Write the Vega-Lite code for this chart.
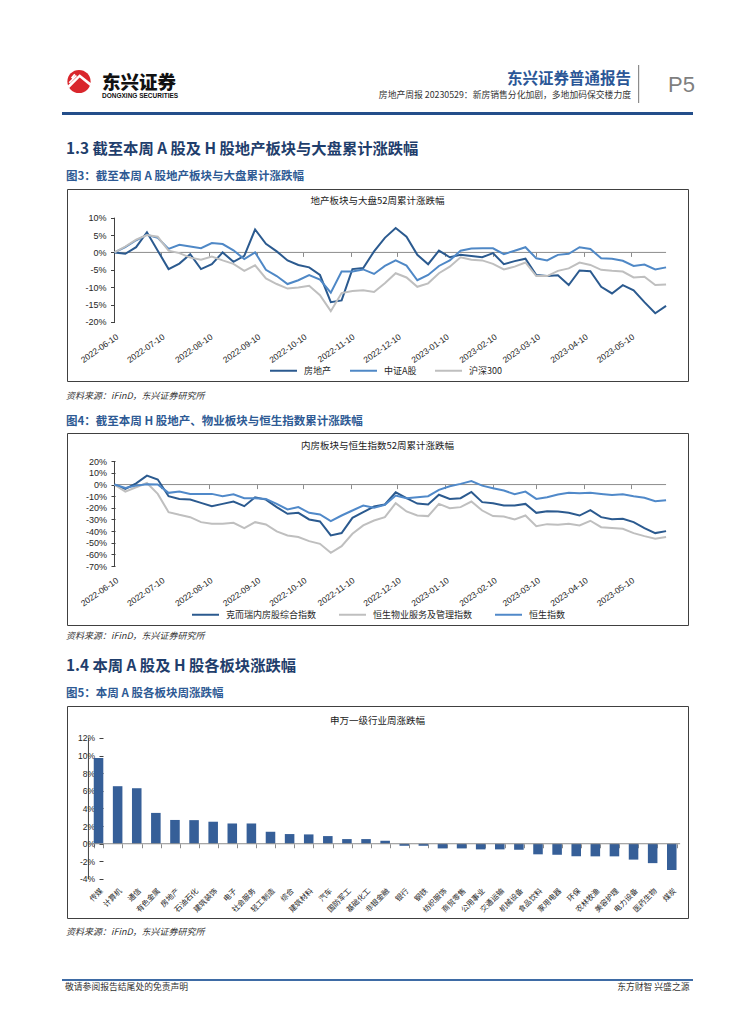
{
"$schema": "https://vega.github.io/schema/vega-lite/v6.json",
"background": "white",
"padding": {"left": 62, "top": 62, "right": 0, "bottom": 0},
"spacing": 0,
"resolve": {"scale": {"color": "independent", "x": "independent", "y": "independent"}, "legend": {"color": "independent"}, "axis": {"x": "independent", "y": "independent"}},
"datasets": {
"c1": [
{"d":"2022-06-10","s":"房地产","v":0},{"d":"2022-06-17","s":"房地产","v":-0.4},{"d":"2022-06-24","s":"房地产","v":1.5},{"d":"2022-07-01","s":"房地产","v":5.8},{"d":"2022-07-08","s":"房地产","v":0.5},{"d":"2022-07-15","s":"房地产","v":-4.8},{"d":"2022-07-22","s":"房地产","v":-3.2},{"d":"2022-07-29","s":"房地产","v":-0.5},{"d":"2022-08-05","s":"房地产","v":-4.8},{"d":"2022-08-12","s":"房地产","v":-3.4},{"d":"2022-08-19","s":"房地产","v":0},{"d":"2022-08-26","s":"房地产","v":-2.7},{"d":"2022-09-02","s":"房地产","v":-1},{"d":"2022-09-09","s":"房地产","v":6.6},{"d":"2022-09-16","s":"房地产","v":2.5},{"d":"2022-09-23","s":"房地产","v":0.3},{"d":"2022-09-30","s":"房地产","v":-2.3},{"d":"2022-10-07","s":"房地产","v":-3.6},{"d":"2022-10-14","s":"房地产","v":-4.3},{"d":"2022-10-21","s":"房地产","v":-6.5},{"d":"2022-10-28","s":"房地产","v":-14.3},{"d":"2022-11-04","s":"房地产","v":-13.8},{"d":"2022-11-11","s":"房地产","v":-4.8},{"d":"2022-11-18","s":"房地产","v":-4.5},{"d":"2022-11-25","s":"房地产","v":0.3},{"d":"2022-12-02","s":"房地产","v":4.2},{"d":"2022-12-09","s":"房地产","v":7},{"d":"2022-12-16","s":"房地产","v":4.5},{"d":"2022-12-23","s":"房地产","v":-0.7},{"d":"2022-12-30","s":"房地产","v":-3.4},{"d":"2023-01-06","s":"房地产","v":0.5},{"d":"2023-01-13","s":"房地产","v":-1.4},{"d":"2023-01-20","s":"房地产","v":-0.7},{"d":"2023-01-27","s":"房地产","v":-1},{"d":"2023-02-03","s":"房地产","v":-1.4},{"d":"2023-02-10","s":"房地产","v":-0.2},{"d":"2023-02-17","s":"房地产","v":-3.4},{"d":"2023-02-24","s":"房地产","v":-2.5},{"d":"2023-03-03","s":"房地产","v":-1.8},{"d":"2023-03-10","s":"房地产","v":-6.5},{"d":"2023-03-17","s":"房地产","v":-6.8},{"d":"2023-03-24","s":"房地产","v":-6.6},{"d":"2023-03-31","s":"房地产","v":-9.4},{"d":"2023-04-07","s":"房地产","v":-5.2},{"d":"2023-04-14","s":"房地产","v":-5.4},{"d":"2023-04-21","s":"房地产","v":-9.9},{"d":"2023-04-28","s":"房地产","v":-11.8},{"d":"2023-05-05","s":"房地产","v":-9.4},{"d":"2023-05-12","s":"房地产","v":-10.9},{"d":"2023-05-19","s":"房地产","v":-14.3},{"d":"2023-05-26","s":"房地产","v":-17.5},{"d":"2023-06-02","s":"房地产","v":-15.4},
{"d":"2022-06-10","s":"中证A股","v":0},{"d":"2022-06-17","s":"中证A股","v":1.5},{"d":"2022-06-24","s":"中证A股","v":3.5},{"d":"2022-07-01","s":"中证A股","v":5.1},{"d":"2022-07-08","s":"中证A股","v":4.2},{"d":"2022-07-15","s":"中证A股","v":1},{"d":"2022-07-22","s":"中证A股","v":2.2},{"d":"2022-07-29","s":"中证A股","v":1.7},{"d":"2022-08-05","s":"中证A股","v":1.2},{"d":"2022-08-12","s":"中证A股","v":2.7},{"d":"2022-08-19","s":"中证A股","v":2.4},{"d":"2022-08-26","s":"中证A股","v":0.6},{"d":"2022-09-02","s":"中证A股","v":-1.9},{"d":"2022-09-09","s":"中证A股","v":0},{"d":"2022-09-16","s":"中证A股","v":-5},{"d":"2022-09-23","s":"中证A股","v":-6.8},{"d":"2022-09-30","s":"中证A股","v":-9.1},{"d":"2022-10-07","s":"中证A股","v":-8},{"d":"2022-10-14","s":"中证A股","v":-6.5},{"d":"2022-10-21","s":"中证A股","v":-7.8},{"d":"2022-10-28","s":"中证A股","v":-11.6},{"d":"2022-11-04","s":"中证A股","v":-5.5},{"d":"2022-11-11","s":"中证A股","v":-5.5},{"d":"2022-11-18","s":"中证A股","v":-4.9},{"d":"2022-11-25","s":"中证A股","v":-6.2},{"d":"2022-12-02","s":"中证A股","v":-3.9},{"d":"2022-12-09","s":"中证A股","v":-2.3},{"d":"2022-12-16","s":"中证A股","v":-3.8},{"d":"2022-12-23","s":"中证A股","v":-8},{"d":"2022-12-30","s":"中证A股","v":-6.5},{"d":"2023-01-06","s":"中证A股","v":-3.9},{"d":"2023-01-13","s":"中证A股","v":-2.3},{"d":"2023-01-20","s":"中证A股","v":0.5},{"d":"2023-01-27","s":"中证A股","v":1.1},{"d":"2023-02-03","s":"中证A股","v":1.2},{"d":"2023-02-10","s":"中证A股","v":1.2},{"d":"2023-02-17","s":"中证A股","v":-0.5},{"d":"2023-02-24","s":"中证A股","v":0.5},{"d":"2023-03-03","s":"中证A股","v":1.5},{"d":"2023-03-10","s":"中证A股","v":-1.7},{"d":"2023-03-17","s":"中证A股","v":-2.3},{"d":"2023-03-24","s":"中证A股","v":-0.7},{"d":"2023-03-31","s":"中证A股","v":-0.4},{"d":"2023-04-07","s":"中证A股","v":1.5},{"d":"2023-04-14","s":"中证A股","v":1},{"d":"2023-04-21","s":"中证A股","v":-1.7},{"d":"2023-04-28","s":"中证A股","v":-1.8},{"d":"2023-05-05","s":"中证A股","v":-2.4},{"d":"2023-05-12","s":"中证A股","v":-3.9},{"d":"2023-05-19","s":"中证A股","v":-3.5},{"d":"2023-05-26","s":"中证A股","v":-4.9},{"d":"2023-06-02","s":"中证A股","v":-4.3},
{"d":"2022-06-10","s":"沪深300","v":0},{"d":"2022-06-17","s":"沪深300","v":1.7},{"d":"2022-06-24","s":"沪深300","v":3.7},{"d":"2022-07-01","s":"沪深300","v":5},{"d":"2022-07-08","s":"沪深300","v":4.5},{"d":"2022-07-15","s":"沪深300","v":0.5},{"d":"2022-07-22","s":"沪深300","v":-0.2},{"d":"2022-07-29","s":"沪深300","v":-1.5},{"d":"2022-08-05","s":"沪深300","v":-2.1},{"d":"2022-08-12","s":"沪深300","v":-1.2},{"d":"2022-08-19","s":"沪深300","v":-2.3},{"d":"2022-08-26","s":"沪深300","v":-3.3},{"d":"2022-09-02","s":"沪深300","v":-5.3},{"d":"2022-09-09","s":"沪深300","v":-3.7},{"d":"2022-09-16","s":"沪深300","v":-7.5},{"d":"2022-09-23","s":"沪深300","v":-9.1},{"d":"2022-09-30","s":"沪深300","v":-10.4},{"d":"2022-10-07","s":"沪深300","v":-10.1},{"d":"2022-10-14","s":"沪深300","v":-9.6},{"d":"2022-10-21","s":"沪深300","v":-12.3},{"d":"2022-10-28","s":"沪深300","v":-16.9},{"d":"2022-11-04","s":"沪深300","v":-11.7},{"d":"2022-11-11","s":"沪深300","v":-11.1},{"d":"2022-11-18","s":"沪深300","v":-10.9},{"d":"2022-11-25","s":"沪深300","v":-11.4},{"d":"2022-12-02","s":"沪深300","v":-8.9},{"d":"2022-12-09","s":"沪深300","v":-6},{"d":"2022-12-16","s":"沪深300","v":-7.2},{"d":"2022-12-23","s":"沪深300","v":-9.9},{"d":"2022-12-30","s":"沪深300","v":-8.9},{"d":"2023-01-06","s":"沪深300","v":-6},{"d":"2023-01-13","s":"沪深300","v":-4.1},{"d":"2023-01-20","s":"沪深300","v":-1.4},{"d":"2023-01-27","s":"沪深300","v":-2.1},{"d":"2023-02-03","s":"沪深300","v":-2.3},{"d":"2023-02-10","s":"沪深300","v":-3.3},{"d":"2023-02-17","s":"沪深300","v":-4.9},{"d":"2023-02-24","s":"沪深300","v":-4.1},{"d":"2023-03-03","s":"沪深300","v":-2.9},{"d":"2023-03-10","s":"沪深300","v":-6.8},{"d":"2023-03-17","s":"沪深300","v":-6.8},{"d":"2023-03-24","s":"沪深300","v":-5.3},{"d":"2023-03-31","s":"沪深300","v":-4.6},{"d":"2023-04-07","s":"沪深300","v":-2.9},{"d":"2023-04-14","s":"沪深300","v":-3.6},{"d":"2023-04-21","s":"沪深300","v":-5},{"d":"2023-04-28","s":"沪深300","v":-5.3},{"d":"2023-05-05","s":"沪深300","v":-5.5},{"d":"2023-05-12","s":"沪深300","v":-7.2},{"d":"2023-05-19","s":"沪深300","v":-7},{"d":"2023-05-26","s":"沪深300","v":-9.4},{"d":"2023-06-02","s":"沪深300","v":-9.2}
],
"c2": [
{"d":"2022-06-10","s":"克而瑞内房股综合指数","v":0},{"d":"2022-06-17","s":"克而瑞内房股综合指数","v":-3.7},{"d":"2022-06-24","s":"克而瑞内房股综合指数","v":1.1},{"d":"2022-07-01","s":"克而瑞内房股综合指数","v":7.7},{"d":"2022-07-08","s":"克而瑞内房股综合指数","v":4.3},{"d":"2022-07-15","s":"克而瑞内房股综合指数","v":-10},{"d":"2022-07-22","s":"克而瑞内房股综合指数","v":-12.3},{"d":"2022-07-29","s":"克而瑞内房股综合指数","v":-12.9},{"d":"2022-08-05","s":"克而瑞内房股综合指数","v":-15.7},{"d":"2022-08-12","s":"克而瑞内房股综合指数","v":-18.6},{"d":"2022-08-19","s":"克而瑞内房股综合指数","v":-16.6},{"d":"2022-08-26","s":"克而瑞内房股综合指数","v":-14.6},{"d":"2022-09-02","s":"克而瑞内房股综合指数","v":-18.6},{"d":"2022-09-09","s":"克而瑞内房股综合指数","v":-10.9},{"d":"2022-09-16","s":"克而瑞内房股综合指数","v":-12.9},{"d":"2022-09-23","s":"克而瑞内房股综合指数","v":-19.4},{"d":"2022-09-30","s":"克而瑞内房股综合指数","v":-25.1},{"d":"2022-10-07","s":"克而瑞内房股综合指数","v":-24.3},{"d":"2022-10-14","s":"克而瑞内房股综合指数","v":-30},{"d":"2022-10-21","s":"克而瑞内房股综合指数","v":-31.7},{"d":"2022-10-28","s":"克而瑞内房股综合指数","v":-43.7},{"d":"2022-11-04","s":"克而瑞内房股综合指数","v":-41.7},{"d":"2022-11-11","s":"克而瑞内房股综合指数","v":-28.6},{"d":"2022-11-18","s":"克而瑞内房股综合指数","v":-23.7},{"d":"2022-11-25","s":"克而瑞内房股综合指数","v":-18.9},{"d":"2022-12-02","s":"克而瑞内房股综合指数","v":-17.1},{"d":"2022-12-09","s":"克而瑞内房股综合指数","v":-6.6},{"d":"2022-12-16","s":"克而瑞内房股综合指数","v":-11.7},{"d":"2022-12-23","s":"克而瑞内房股综合指数","v":-16.3},{"d":"2022-12-30","s":"克而瑞内房股综合指数","v":-17.1},{"d":"2023-01-06","s":"克而瑞内房股综合指数","v":-8.7},{"d":"2023-01-13","s":"克而瑞内房股综合指数","v":-12.3},{"d":"2023-01-20","s":"克而瑞内房股综合指数","v":-11.7},{"d":"2023-01-27","s":"克而瑞内房股综合指数","v":-6.3},{"d":"2023-02-03","s":"克而瑞内房股综合指数","v":-15.1},{"d":"2023-02-10","s":"克而瑞内房股综合指数","v":-16},{"d":"2023-02-17","s":"克而瑞内房股综合指数","v":-18},{"d":"2023-02-24","s":"克而瑞内房股综合指数","v":-18},{"d":"2023-03-03","s":"克而瑞内房股综合指数","v":-16.6},{"d":"2023-03-10","s":"克而瑞内房股综合指数","v":-24.3},{"d":"2023-03-17","s":"克而瑞内房股综合指数","v":-22.9},{"d":"2023-03-24","s":"克而瑞内房股综合指数","v":-23.1},{"d":"2023-03-31","s":"克而瑞内房股综合指数","v":-24.3},{"d":"2023-04-07","s":"克而瑞内房股综合指数","v":-26.6},{"d":"2023-04-14","s":"克而瑞内房股综合指数","v":-22},{"d":"2023-04-21","s":"克而瑞内房股综合指数","v":-28},{"d":"2023-04-28","s":"克而瑞内房股综合指数","v":-29.7},{"d":"2023-05-05","s":"克而瑞内房股综合指数","v":-29.4},{"d":"2023-05-12","s":"克而瑞内房股综合指数","v":-32.3},{"d":"2023-05-19","s":"克而瑞内房股综合指数","v":-37.4},{"d":"2023-05-26","s":"克而瑞内房股综合指数","v":-41.7},{"d":"2023-06-02","s":"克而瑞内房股综合指数","v":-40},
{"d":"2022-06-10","s":"恒生物业服务及管理指数","v":0},{"d":"2022-06-17","s":"恒生物业服务及管理指数","v":-6},{"d":"2022-06-24","s":"恒生物业服务及管理指数","v":-2.3},{"d":"2022-07-01","s":"恒生物业服务及管理指数","v":1.4},{"d":"2022-07-08","s":"恒生物业服务及管理指数","v":-8},{"d":"2022-07-15","s":"恒生物业服务及管理指数","v":-23.7},{"d":"2022-07-22","s":"恒生物业服务及管理指数","v":-26},{"d":"2022-07-29","s":"恒生物业服务及管理指数","v":-28},{"d":"2022-08-05","s":"恒生物业服务及管理指数","v":-32.3},{"d":"2022-08-12","s":"恒生物业服务及管理指数","v":-33.7},{"d":"2022-08-19","s":"恒生物业服务及管理指数","v":-33.7},{"d":"2022-08-26","s":"恒生物业服务及管理指数","v":-32.9},{"d":"2022-09-02","s":"恒生物业服务及管理指数","v":-37.4},{"d":"2022-09-09","s":"恒生物业服务及管理指数","v":-32.3},{"d":"2022-09-16","s":"恒生物业服务及管理指数","v":-34.3},{"d":"2022-09-23","s":"恒生物业服务及管理指数","v":-40.3},{"d":"2022-09-30","s":"恒生物业服务及管理指数","v":-43.7},{"d":"2022-10-07","s":"恒生物业服务及管理指数","v":-45.1},{"d":"2022-10-14","s":"恒生物业服务及管理指数","v":-48.6},{"d":"2022-10-21","s":"恒生物业服务及管理指数","v":-50.9},{"d":"2022-10-28","s":"恒生物业服务及管理指数","v":-58.6},{"d":"2022-11-04","s":"恒生物业服务及管理指数","v":-52.9},{"d":"2022-11-11","s":"恒生物业服务及管理指数","v":-42.3},{"d":"2022-11-18","s":"恒生物业服务及管理指数","v":-35.1},{"d":"2022-11-25","s":"恒生物业服务及管理指数","v":-30.9},{"d":"2022-12-02","s":"恒生物业服务及管理指数","v":-28},{"d":"2022-12-09","s":"恒生物业服务及管理指数","v":-16},{"d":"2022-12-16","s":"恒生物业服务及管理指数","v":-23.1},{"d":"2022-12-23","s":"恒生物业服务及管理指数","v":-26.6},{"d":"2022-12-30","s":"恒生物业服务及管理指数","v":-27.1},{"d":"2023-01-06","s":"恒生物业服务及管理指数","v":-16.6},{"d":"2023-01-13","s":"恒生物业服务及管理指数","v":-20.3},{"d":"2023-01-20","s":"恒生物业服务及管理指数","v":-19.4},{"d":"2023-01-27","s":"恒生物业服务及管理指数","v":-14.6},{"d":"2023-02-03","s":"恒生物业服务及管理指数","v":-22.3},{"d":"2023-02-10","s":"恒生物业服务及管理指数","v":-27.1},{"d":"2023-02-17","s":"恒生物业服务及管理指数","v":-27.4},{"d":"2023-02-24","s":"恒生物业服务及管理指数","v":-30},{"d":"2023-03-03","s":"恒生物业服务及管理指数","v":-26.6},{"d":"2023-03-10","s":"恒生物业服务及管理指数","v":-35.7},{"d":"2023-03-17","s":"恒生物业服务及管理指数","v":-34},{"d":"2023-03-24","s":"恒生物业服务及管理指数","v":-34.6},{"d":"2023-03-31","s":"恒生物业服务及管理指数","v":-33.7},{"d":"2023-04-07","s":"恒生物业服务及管理指数","v":-35.1},{"d":"2023-04-14","s":"恒生物业服务及管理指数","v":-31.1},{"d":"2023-04-21","s":"恒生物业服务及管理指数","v":-36.6},{"d":"2023-04-28","s":"恒生物业服务及管理指数","v":-37.4},{"d":"2023-05-05","s":"恒生物业服务及管理指数","v":-38},{"d":"2023-05-12","s":"恒生物业服务及管理指数","v":-41.7},{"d":"2023-05-19","s":"恒生物业服务及管理指数","v":-44.3},{"d":"2023-05-26","s":"恒生物业服务及管理指数","v":-46.6},{"d":"2023-06-02","s":"恒生物业服务及管理指数","v":-45.1},
{"d":"2022-06-10","s":"恒生指数","v":0},{"d":"2022-06-17","s":"恒生指数","v":-2.9},{"d":"2022-06-24","s":"恒生指数","v":-0.9},{"d":"2022-07-01","s":"恒生指数","v":0.3},{"d":"2022-07-08","s":"恒生指数","v":0},{"d":"2022-07-15","s":"恒生指数","v":-7.1},{"d":"2022-07-22","s":"恒生指数","v":-6},{"d":"2022-07-29","s":"恒生指数","v":-8},{"d":"2022-08-05","s":"恒生指数","v":-8},{"d":"2022-08-12","s":"恒生指数","v":-8},{"d":"2022-08-19","s":"恒生指数","v":-10},{"d":"2022-08-26","s":"恒生指数","v":-8.3},{"d":"2022-09-02","s":"恒生指数","v":-11.7},{"d":"2022-09-09","s":"恒生指数","v":-11.7},{"d":"2022-09-16","s":"恒生指数","v":-12.3},{"d":"2022-09-23","s":"恒生指数","v":-16.6},{"d":"2022-09-30","s":"恒生指数","v":-21.4},{"d":"2022-10-07","s":"恒生指数","v":-19.4},{"d":"2022-10-14","s":"恒生指数","v":-24.3},{"d":"2022-10-21","s":"恒生指数","v":-25.7},{"d":"2022-10-28","s":"恒生指数","v":-31.4},{"d":"2022-11-04","s":"恒生指数","v":-26.6},{"d":"2022-11-11","s":"恒生指数","v":-22.3},{"d":"2022-11-18","s":"恒生指数","v":-18},{"d":"2022-11-25","s":"恒生指数","v":-20},{"d":"2022-12-02","s":"恒生指数","v":-17.4},{"d":"2022-12-09","s":"恒生指数","v":-9.4},{"d":"2022-12-16","s":"恒生指数","v":-11.7},{"d":"2022-12-23","s":"恒生指数","v":-10.9},{"d":"2022-12-30","s":"恒生指数","v":-10},{"d":"2023-01-06","s":"恒生指数","v":-4.6},{"d":"2023-01-13","s":"恒生指数","v":-1.4},{"d":"2023-01-20","s":"恒生指数","v":0.6},{"d":"2023-01-27","s":"恒生指数","v":3.1},{"d":"2023-02-03","s":"恒生指数","v":-0.9},{"d":"2023-02-10","s":"恒生指数","v":-3.1},{"d":"2023-02-17","s":"恒生指数","v":-5.1},{"d":"2023-02-24","s":"恒生指数","v":-8.3},{"d":"2023-03-03","s":"恒生指数","v":-6},{"d":"2023-03-10","s":"恒生指数","v":-12.3},{"d":"2023-03-17","s":"恒生指数","v":-10.9},{"d":"2023-03-24","s":"恒生指数","v":-8.6},{"d":"2023-03-31","s":"恒生指数","v":-7.1},{"d":"2023-04-07","s":"恒生指数","v":-7.4},{"d":"2023-04-14","s":"恒生指数","v":-7.1},{"d":"2023-04-21","s":"恒生指数","v":-8},{"d":"2023-04-28","s":"恒生指数","v":-8.9},{"d":"2023-05-05","s":"恒生指数","v":-8.3},{"d":"2023-05-12","s":"恒生指数","v":-10},{"d":"2023-05-19","s":"恒生指数","v":-11.4},{"d":"2023-05-26","s":"恒生指数","v":-14.3},{"d":"2023-06-02","s":"恒生指数","v":-13.4}
],
"c3": [
{"k":"传媒","v":9.74},{"k":"计算机","v":6.53},{"k":"通信","v":6.3},{"k":"有色金属","v":3.5},{"k":"房地产","v":2.7},{"k":"石油石化","v":2.68},{"k":"建筑装饰","v":2.5},{"k":"电子","v":2.3},{"k":"社会服务","v":2.3},{"k":"轻工制造","v":1.36},{"k":"综合","v":1.1},{"k":"建筑材料","v":1.06},{"k":"汽车","v":0.87},{"k":"国防军工","v":0.53},{"k":"基础化工","v":0.53},{"k":"非银金融","v":0.34},{"k":"银行","v":-0.23},{"k":"钢铁","v":-0.23},{"k":"纺织服饰","v":-0.53},{"k":"商贸零售","v":-0.53},{"k":"公用事业","v":-0.64},{"k":"交通运输","v":-0.64},{"k":"机械设备","v":-0.68},{"k":"食品饮料","v":-1.2},{"k":"家用电器","v":-1.25},{"k":"环保","v":-1.43},{"k":"农林牧渔","v":-1.43},{"k":"美容护理","v":-1.43},{"k":"电力设备","v":-1.8},{"k":"医药生物","v":-2.2},{"k":"煤炭","v":-2.98}
]
},
"vconcat": [
{"hconcat": [
  {"width": 34, "height": 39, "data": {"values": [{}]}, "layer": [
    {"mark": {"type": "point", "shape": "circle", "filled": true, "size": 540, "color": "#D9262C", "opacity": 1}},
    {"mark": {"type": "point", "shape": "M-0.9,0.35 L0.05,-0.55 L0.95,0.15 L0.85,0.35 L0.05,-0.3 L-0.75,0.5 Z M-0.8,0.05 L-0.25,-0.5 L-0.15,-0.42 L-0.7,0.14 Z M-0.62,-0.3 L-0.37,-0.6 L-0.27,-0.52 L-0.52,-0.22 Z", "filled": true, "size": 676, "color": "#ffffff", "opacity": 1}}
  ]},
  {"width": 5.7, "height": 10, "data": {"values": []}, "mark": "point"},
  {"width": 74.3, "height": 39, "data": {"values": []}, "mark": "point",
   "title": {"text": "东兴证券", "subtitle": "DONGXING SECURITIES", "anchor": "start", "offset": -37.6, "fontSize": 18.5, "fontWeight": 900, "color": "#111111", "subtitleFont": "Liberation Sans", "subtitleFontSize": 6.5, "subtitleFontWeight": "bold", "subtitleColor": "#111111", "subtitlePadding": 1}},
  {"width": 452, "height": 39, "data": {"values": []}, "mark": "point",
   "title": {"text": "东兴证券普通报告", "subtitle": "房地产周报 20230529：新房销售分化加剧，多地加码保交楼力度", "anchor": "end", "offset": -37.5, "fontSize": 15.5, "fontWeight": "bold", "color": "#2B5797", "subtitleFontSize": 8.8, "subtitleColor": "#333333", "subtitlePadding": 3}},
  {"width": 6.9, "height": 10, "data": {"values": []}, "mark": "point"},
  {"vconcat": [
    {"width": 1.2, "height": 3, "data": {"values": []}, "mark": "point"},
    {"width": 1.2, "height": 38, "data": {"values": []}, "mark": "point", "view": {"fill": "#8c8c8c"}}
  ], "spacing": 0},
  {"width": 55, "height": 50, "data": {"values": []}, "mark": "point",
   "title": {"text": "P5", "anchor": "end", "offset": -34.5, "font": "Liberation Sans", "fontSize": 22, "color": "#7f7f7f"}}
 ], "spacing": 0},
{"width": 631, "height": 3, "data": {"values": []}, "mark": "point", "view": {"fill": "#234E8A"}},
{"width": 631, "height": 48, "data": {"values": []}, "mark": "point",
 "title": {"text": "1.3 截至本周 A 股及 H 股地产板块与大盘累计涨跌幅", "anchor": "start", "dx": 4, "offset": -41.85, "fontSize": 15.3, "fontWeight": "bold", "color": "#1F3E6C"}},
{"width": 631, "height": 25, "data": {"values": []}, "mark": "point",
 "title": {"text": "图3：截至本周 A 股地产板块与大盘累计涨跌幅", "anchor": "start", "dx": 4, "offset": -19.8, "fontSize": 11.5, "fontWeight": "bold", "color": "#2E5A94"}},
{"hconcat": [
  {"width": 4, "height": 199, "data": {"values": []}, "mark": "point"},
  {"width": 621, "height": 192,
   "view": {"stroke": "#404040", "strokeWidth": 1},
   "title": {"text": "地产板块与大盘52周累计涨跌幅", "anchor": "middle", "offset": -16.6, "fontSize": 9.5, "color": "#1a1a1a"},
   "layer": [
    {"data": {"values": [{}]}, "mark": {"type": "rule", "color": "#8c8c8c", "strokeWidth": 1},
     "encoding": {
      "x": {"datum": {"year": 2022, "month": 6, "date": 10, "utc": true}, "type": "temporal",
        "scale": {"type": "utc", "domain": [{"year": 2022, "month": 5, "date": 10, "hours": 6, "minutes": 14, "utc": true}, {"year": 2023, "month": 6, "date": 16, "hours": 4, "minutes": 48, "utc": true}]},
        "axis": {"orient": "bottom", "offset": -128.6, "values": [{"year":2022,"month":6,"date":10,"utc":true},{"year":2022,"month":7,"date":10,"utc":true},{"year":2022,"month":8,"date":10,"utc":true},{"year":2022,"month":9,"date":10,"utc":true},{"year":2022,"month":10,"date":10,"utc":true},{"year":2022,"month":11,"date":10,"utc":true},{"year":2022,"month":12,"date":10,"utc":true},{"year":2023,"month":1,"date":10,"utc":true},{"year":2023,"month":2,"date":10,"utc":true},{"year":2023,"month":3,"date":10,"utc":true},{"year":2023,"month":4,"date":10,"utc":true},{"year":2023,"month":5,"date":10,"utc":true}],
          "tickCount": 30, "labelExpr": "utcFormat(datum.value, '%Y-%m-%d')", "labelAngle": -35, "labelPadding": 75.6, "tickSize": 4, "tickColor": "#8c8c8c", "domain": false, "grid": false, "title": null, "labelFont": "Liberation Sans", "labelFontSize": 8.5, "labelColor": "#262626", "labelOverlap": false, "labelBound": false, "labelFlush": false}},
      "x2": {"datum": {"year": 2023, "month": 6, "date": 2, "utc": true}},
      "y": {"datum": 0, "type": "quantitative",
        "scale": {"domain": [-37, 18.25], "nice": false, "zero": false},
        "axis": {"orient": "left", "offset": -47.5, "values": [-20, -15, -10, -5, 0, 5, 10], "tickCount": 30, "labelExpr": "datum.value + '%'", "labelOverlap": false, "domain": false, "grid": false, "title": null, "tickSize": 4, "tickColor": "#404040", "labelPadding": 4.5, "labelFont": "Liberation Sans", "labelFontSize": 9, "labelColor": "#262626"}}}},
    {"data": {"values": [{}]}, "mark": {"type": "rule", "color": "#404040", "strokeWidth": 1},
     "encoding": {
      "x": {"datum": {"year": 2022, "month": 6, "date": 10, "utc": true}, "type": "temporal"},
      "y": {"datum": -20, "type": "quantitative"},
      "y2": {"datum": 10}}},
    {"data": {"name": "c1"}, "mark": {"type": "line", "strokeWidth": 2},
     "encoding": {
      "x": {"field": "d", "type": "temporal"},
      "y": {"field": "v", "type": "quantitative"},
      "color": {"field": "s", "type": "nominal",
        "scale": {"domain": ["房地产", "中证A股", "沪深300"], "range": ["#2B5A8F", "#4F88C6", "#BFBFBF"]},
        "legend": {"orient": "none", "legendX": 207, "legendY": 167, "direction": "horizontal", "title": null, "symbolType": "stroke", "symbolSize": 729, "symbolStrokeWidth": 2, "labelFontSize": 9, "labelFont": "Noto Sans CJK SC", "labelColor": "#262626", "labelOffset": 6, "columnPadding": 14}}
     }}
   ]}
 ], "spacing": 0},
{"width": 631, "height": 20, "data": {"values": []}, "mark": "point",
 "title": {"text": "资料来源：iFinD，东兴证券研究所", "anchor": "start", "dx": 4, "offset": -13.3, "fontSize": 9, "fontStyle": "italic", "color": "#333333"}},
{"width": 631, "height": 24, "data": {"values": []}, "mark": "point",
 "title": {"text": "图4：截至本周 H 股地产、物业板块与恒生指数累计涨跌幅", "anchor": "start", "dx": 4, "offset": -19.5, "fontSize": 11.5, "fontWeight": "bold", "color": "#2E5A94"}},
{"hconcat": [
  {"width": 4, "height": 199, "data": {"values": []}, "mark": "point"},
  {"width": 621, "height": 192,
   "view": {"stroke": "#404040", "strokeWidth": 1},
   "title": {"text": "内房板块与恒生指数52周累计涨跌幅", "anchor": "middle", "offset": -17.9, "fontSize": 9.5, "color": "#1a1a1a"},
   "layer": [
    {"data": {"values": [{}]}, "mark": {"type": "rule", "color": "#8c8c8c", "strokeWidth": 1},
     "encoding": {
      "x": {"datum": {"year": 2022, "month": 6, "date": 10, "utc": true}, "type": "temporal",
        "scale": {"type": "utc", "domain": [{"year": 2022, "month": 5, "date": 10, "hours": 6, "minutes": 14, "utc": true}, {"year": 2023, "month": 6, "date": 16, "hours": 4, "minutes": 48, "utc": true}]},
        "axis": {"orient": "bottom", "offset": -140.4, "values": [{"year":2022,"month":6,"date":10,"utc":true},{"year":2022,"month":7,"date":10,"utc":true},{"year":2022,"month":8,"date":10,"utc":true},{"year":2022,"month":9,"date":10,"utc":true},{"year":2022,"month":10,"date":10,"utc":true},{"year":2022,"month":11,"date":10,"utc":true},{"year":2022,"month":12,"date":10,"utc":true},{"year":2023,"month":1,"date":10,"utc":true},{"year":2023,"month":2,"date":10,"utc":true},{"year":2023,"month":3,"date":10,"utc":true},{"year":2023,"month":4,"date":10,"utc":true},{"year":2023,"month":5,"date":10,"utc":true}],
          "tickCount": 30, "labelExpr": "utcFormat(datum.value, '%Y-%m-%d')", "labelAngle": -35, "labelPadding": 87, "tickSize": 4, "tickColor": "#8c8c8c", "domain": false, "grid": false, "title": null, "labelFont": "Liberation Sans", "labelFontSize": 8.5, "labelColor": "#262626", "labelOverlap": false, "labelBound": false, "labelFlush": false}},
      "x2": {"datum": {"year": 2023, "month": 6, "date": 2, "utc": true}},
      "y": {"datum": 0, "type": "quantitative",
        "scale": {"domain": [-120.7, 44.33], "nice": false, "zero": false},
        "axis": {"orient": "left", "offset": -48, "values": [-70, -60, -50, -40, -30, -20, -10, 0, 10, 20], "tickCount": 30, "labelExpr": "datum.value + '%'", "labelOverlap": false, "domain": false, "grid": false, "title": null, "tickSize": 4, "tickColor": "#404040", "labelPadding": 4.5, "labelFont": "Liberation Sans", "labelFontSize": 9, "labelColor": "#262626"}}}},
    {"data": {"values": [{}]}, "mark": {"type": "rule", "color": "#404040", "strokeWidth": 1},
     "encoding": {
      "x": {"datum": {"year": 2022, "month": 6, "date": 10, "utc": true}, "type": "temporal"},
      "y": {"datum": -70, "type": "quantitative"},
      "y2": {"datum": 20}}},
    {"data": {"name": "c2"}, "mark": {"type": "line", "strokeWidth": 2},
     "encoding": {
      "x": {"field": "d", "type": "temporal"},
      "y": {"field": "v", "type": "quantitative"},
      "color": {"field": "s", "type": "nominal",
        "scale": {"domain": ["克而瑞内房股综合指数", "恒生物业服务及管理指数", "恒生指数"], "range": ["#2B5A8F", "#BFBFBF", "#5089C9"]},
        "legend": {"orient": "none", "legendX": 129, "legendY": 167, "direction": "horizontal", "title": null, "symbolType": "stroke", "symbolSize": 729, "symbolStrokeWidth": 2, "labelFontSize": 9, "labelFont": "Noto Sans CJK SC", "labelColor": "#262626", "labelOffset": 6, "columnPadding": 18}}
     }}
   ]}
 ], "spacing": 0},
{"width": 631, "height": 18, "data": {"values": []}, "mark": "point",
 "title": {"text": "资料来源：iFinD，东兴证券研究所", "anchor": "start", "dx": 4, "offset": -9.3, "fontSize": 9, "fontStyle": "italic", "color": "#333333"}},
{"width": 631, "height": 28, "data": {"values": []}, "mark": "point",
 "title": {"text": "1.4 本周 A 股及 H 股各板块涨跌幅", "anchor": "start", "dx": 4, "offset": -24, "fontSize": 15.3, "fontWeight": "bold", "color": "#1F3E6C"}},
{"width": 631, "height": 27, "data": {"values": []}, "mark": "point",
 "title": {"text": "图5：本周 A 股各板块周涨跌幅", "anchor": "start", "dx": 4, "offset": -21.8, "fontSize": 11.5, "fontWeight": "bold", "color": "#2E5A94"}},
{"hconcat": [
  {"width": 4, "height": 212, "data": {"values": []}, "mark": "point"},
  {"width": 621, "height": 212,
   "view": {"stroke": "#404040", "strokeWidth": 1},
   "title": {"text": "申万一级行业周涨跌幅", "anchor": "middle", "offset": -19.6, "fontSize": 9.5, "color": "#1a1a1a"},
   "layer": [
    {"data": {"name": "c3"}, "mark": {"type": "bar", "color": "#365F98"},
     "encoding": {
      "x": {"field": "k", "type": "nominal", "sort": null,
        "scale": {"domain": ["传媒","计算机","通信","有色金属","房地产","石油石化","建筑装饰","电子","社会服务","轻工制造","综合","建筑材料","汽车","国防军工","基础化工","非银金融","银行","钢铁","纺织服饰","商贸零售","公用事业","交通运输","机械设备","食品饮料","家用电器","环保","农林牧渔","美容护理","电力设备","医药生物","煤炭"], "paddingInner": 0.5, "paddingOuter": 1.6, "align": 0.7},
        "axis": {"orient": "bottom", "offset": -74.25, "labelAngle": -45, "labelPadding": 39, "tickBand": "extent", "tickSize": 4, "tickColor": "#8c8c8c", "domain": false, "grid": false, "title": null, "labelFont": "Noto Sans CJK SC", "labelFontSize": 7.5, "labelColor": "#262626"}},
      "y": {"field": "v", "type": "quantitative",
        "scale": {"domain": [-8.4255, 15.631], "nice": false, "zero": false},
        "axis": {"orient": "left", "offset": -36, "values": [-4, -2, 0, 2, 4, 6, 8, 10, 12], "tickCount": 30, "labelExpr": "datum.value + '%'", "labelOverlap": false, "domain": false, "grid": false, "title": null, "tickSize": 4, "tickColor": "#404040", "labelPadding": 4.5, "labelFont": "Liberation Sans", "labelFontSize": 8.5, "labelColor": "#262626"}},
      "y2": {"datum": 0}
     }},
    {"data": {"values": [{}]}, "mark": {"type": "rule", "color": "#8c8c8c", "strokeWidth": 1, "xOffset": -5.3, "x2Offset": 3.6},
     "encoding": {
      "x": {"datum": "传媒", "type": "nominal", "bandPosition": 0},
      "x2": {"datum": "煤炭", "bandPosition": 1},
      "y": {"datum": 0, "type": "quantitative"}}},
    {"data": {"values": [{}]}, "mark": {"type": "rule", "color": "#404040", "strokeWidth": 1, "xOffset": -5.3},
     "encoding": {
      "x": {"datum": "传媒", "type": "nominal", "bandPosition": 0},
      "y": {"datum": -4, "type": "quantitative"},
      "y2": {"datum": 12}}}
   ]}
 ], "spacing": 0},
{"width": 631, "height": 60, "data": {"values": []}, "mark": "point",
 "title": {"text": "资料来源：iFinD，东兴证券研究所", "anchor": "start", "dx": 4, "offset": -18.3, "fontSize": 9, "fontStyle": "italic", "color": "#333333"}},
{"width": 631, "height": 2, "data": {"values": []}, "mark": "point", "view": {"fill": "#3E6BA5"}},
{"hconcat": [
  {"width": 315, "height": 18, "data": {"values": []}, "mark": "point",
   "title": {"text": "敬请参阅报告结尾处的免责声明", "anchor": "start", "dx": 3, "offset": -11.2, "fontSize": 8.8, "color": "#333333"}},
  {"width": 316, "height": 18, "data": {"values": []}, "mark": "point",
   "title": {"text": "东方财智 兴盛之源", "anchor": "end", "dx": -3.5, "offset": -11.2, "fontSize": 8.8, "color": "#333333"}}
 ], "spacing": 0}
],
"config": {
  "view": {"stroke": null},
  "font": "Noto Sans CJK SC",
  "title": {"font": "Noto Sans CJK SC", "fontWeight": "normal", "subtitleFont": "Noto Sans CJK SC"},
  "axis": {"grid": false, "title": null},
  "point": {"opacity": 0},
  "concat": {"spacing": 0}
}
}
